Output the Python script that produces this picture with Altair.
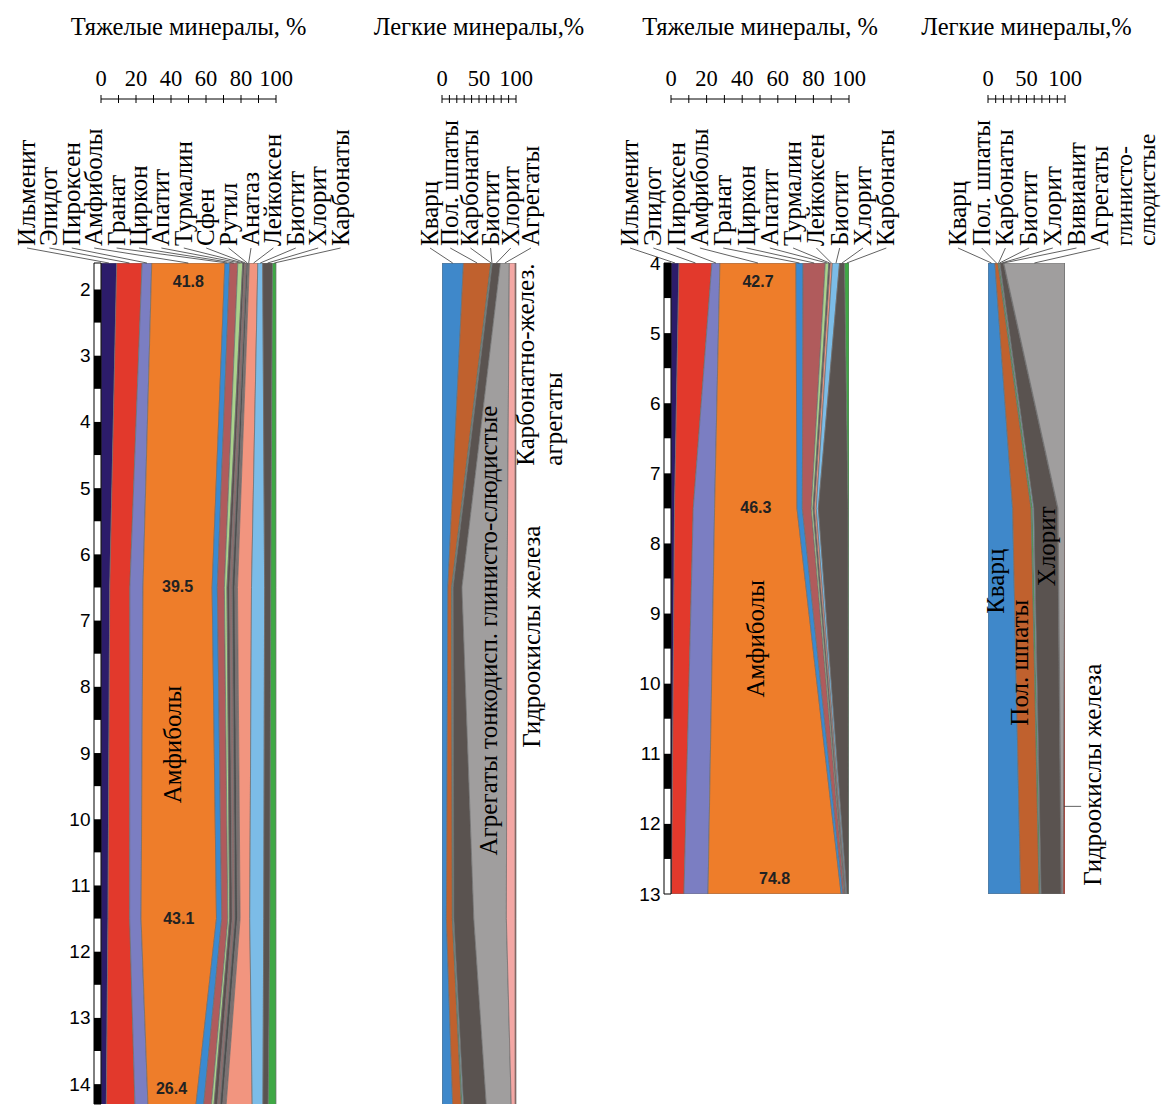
import math
import altair as alt
import pandas as pd

SERIF = "Liberation Serif"
SANS = "Liberation Sans"

# ---------------- data ----------------
# Site 1, heavy minerals (%), sample depths (m)
h1_minerals = ["Ильменит", "Эпидот", "Пироксен", "Амфиболы", "Гранат", "Циркон", "Апатит",
               "Турмалин", "Сфен", "Рутил", "Анатаз", "Лейкоксен", "Биотит", "Хлорит", "Карбонаты"]
h1_depths = [1.6, 6.5, 11.5, 14.5]
h1_values = [
    [9.0, 5.0, 4.0, 3.0],        # Ильменит
    [14.5, 11.5, 12.4, 16.6],    # Эпидот
    [5.5, 7.5, 6.5, 7.5],        # Пироксен
    [41.8, 39.5, 43.1, 26.4],    # Амфиболы
    [2.8, 3.0, 3.0, 4.5],        # Гранат
    [4.6, 4.0, 3.5, 4.5],        # Циркон
    [2.8, 1.5, 1.0, 1.5],        # Апатит
    [1.0, 1.5, 1.5, 2.0],        # Турмалин
    [1.2, 1.5, 1.5, 1.5],        # Сфен
    [0.8, 1.5, 1.5, 1.5],        # Рутил
    [0.8, 1.5, 1.5, 2.0],        # Анатаз
    [4.8, 8.0, 5.5, 15.5],       # Лейкоксен
    [2.8, 7.5, 8.0, 6.0],        # Биотит
    [5.6, 3.5, 3.5, 3.0],        # Хлорит
    [2.0, 3.0, 3.5, 4.5],        # Карбонаты
]

# Site 1, light minerals (%)
l1_minerals = ["Кварц", "Пол. шпаты", "Карбонаты", "Биотит", "Хлорит", "Агрегаты",
               "Карбонатно-желез. агрегаты", "Гидроокислы железа"]
l1_labelled = ["Кварц", "Пол. шпаты", "Карбонаты", "Биотит", "Хлорит", "Агрегаты"]
l1_depths = [1.6, 6.5, 11.5, 14.5]
l1_values = [
    [29.0, 8.0, 6.0, 15.0],
    [37.0, 5.0, 8.0, 12.0],
    [1.0, 1.0, 1.0, 1.5],
    [1.0, 1.0, 1.0, 1.5],
    [11.0, 12.0, 27.0, 31.0],
    [12.0, 61.0, 44.0, 33.0],
    [8.0, 11.0, 12.0, 5.0],
    [1.0, 1.0, 1.0, 1.0],
]

# Site 2, heavy minerals (%)
h2_minerals = ["Ильменит", "Эпидот", "Пироксен", "Амфиболы", "Гранат", "Циркон", "Апатит",
               "Турмалин", "Лейкоксен", "Биотит", "Хлорит", "Карбонаты"]
h2_depths = [4.0, 7.5, 13.0]
h2_values = [
    [4.5, 2.0, 0.3],
    [18.5, 10.5, 7.0],
    [4.5, 12.0, 13.5],
    [42.7, 46.3, 74.8],
    [4.0, 3.0, 1.0],
    [12.5, 5.0, 0.8],
    [2.0, 1.0, 0.3],
    [0.8, 0.8, 0.3],
    [1.2, 1.0, 0.3],
    [4.0, 1.2, 0.5],
    [2.8, 16.7, 1.0],
    [2.5, 0.5, 0.2],
]

# Site 2, light minerals (%)
l2_minerals = ["Кварц", "Пол. шпаты", "Карбонаты", "Биотит", "Хлорит", "Вивианит", "Агрегаты",
               "Гидроокислы железа"]
l2_labelled = ["Кварц", "Пол. шпаты", "Карбонаты", "Биотит", "Хлорит", "Вивианит", "Агрегаты"]
l2_depths = [4.0, 7.5, 13.0]
l2_values = [
    [9.0, 32.0, 42.5],
    [4.0, 24.0, 24.0],
    [1.5, 2.0, 1.5],
    [1.0, 1.5, 1.0],
    [4.5, 31.0, 26.0],
    [0.5, 0.5, 0.5],
    [79.5, 9.0, 2.0],
    [0.0, 0.0, 2.5],
]

heavy_ticks = [0, 20, 40, 60, 80, 100]
light_ticks = [0, 50, 100]

# ---------------- styles ----------------
COL = {
    "Ильменит": "#2c1c6a", "Эпидот": "#e2392c", "Пироксен": "#7b7ec2", "Амфиболы": "#ee7d2a",
    "Гранат": "#3a8ad1", "Циркон": "#b05b5c", "Апатит": "#a9d28c", "Турмалин": "#5b4e4e",
    "Сфен": "#8d6f6f", "Рутил": "#4e4e4e", "Анатаз": "#7d7070", "Лейкоксен": "#f2957f",
    "Биотит": "#7cbce7", "Хлорит": "#5a5350", "Карбонаты": "#3fa845",
}
LCOL = {
    "Кварц": "#3f88ca", "Пол. шпаты": "#c0612e", "Карбонаты": "#4aa84e", "Биотит": "#7fd0e6",
    "Хлорит": "#5a5350", "Вивианит": "#8a7c7c", "Агрегаты": "#a09e9e",
    "Карбонатно-желез. агрегаты": "#f4a7a4", "Гидроокислы железа": "#c0392b",
}

SPACING = 139
ROT_FS = 25      # rotated serif labels
TITLE_FS = 24.5


def build_panel(names, colors, depths, values, labelled, band_w, extra_w, height, ydom, ticks,
                title, lab_start, lab_step, show_depth, numbers_for=None, notes=(),
                extra_label_lines=None, hlines=()):
    rows = []
    for k, (m, vs) in enumerate(zip(names, values)):
        for d, v in zip(depths, vs):
            rows.append({"mineral": m, "k": k, "depth": d, "value": v})
    df = pd.DataFrame(rows)

    width = band_w + extra_w
    xs = alt.Scale(domain=[0, 100.0 * width / band_w], nice=False, zero=False)
    ys = alt.Scale(domain=list(ydom), reverse=True, nice=False, zero=False)
    if show_depth:
        yax = alt.Axis(values=list(range(math.ceil(ydom[0]), math.floor(ydom[1]) + 1)),
                       format="d", labelFont=SANS, labelFontSize=19, labelColor="black",
                       ticks=False, domain=False, grid=False, labelPadding=11,
                       labelOverlap=False, title="")
    else:
        yax = alt.Axis(labels=False, ticks=False, domain=False, grid=False, title="")

    def X(f):
        return alt.X(f, scale=xs, axis=None)

    def Y(f):
        return alt.Y(f, scale=ys, axis=yax)

    def pct(px):
        return px / band_w * 100.0

    layers = []
    area = alt.Chart(df).mark_area(orient="horizontal", stroke="#6e6e6e", strokeWidth=0.7,
                                   clip=True).encode(
        x=alt.X("value:Q", stack="zero", scale=xs, axis=None),
        y=Y("depth:Q"),
        color=alt.Color("mineral:N", scale=alt.Scale(domain=names, range=[colors[m] for m in names]),
                        legend=None),
        order=alt.Order("k:Q", sort="ascending"),
    )
    layers.append(area)

    # depth scale bar (alternating half-metre segments)
    if show_depth:
        bg = pd.DataFrame({"a": [ydom[0]], "b": [ydom[1]]})
        layers.append(alt.Chart(bg).mark_rect(fill="white", stroke="black", strokeWidth=1).encode(
            x=alt.value(-7), x2=alt.value(0), y=Y("a:Q"), y2="b:Q"))
        segs = [{"a": n, "b": min(n + 0.5, ydom[1])}
                for n in range(math.ceil(ydom[0]), math.floor(ydom[1]) + 1) if n < ydom[1]]
        layers.append(alt.Chart(pd.DataFrame(segs)).mark_rect(fill="black").encode(
            x=alt.value(-7), x2=alt.value(0), y=Y("a:Q"), y2="b:Q"))

    # floating percent scale bar on top
    layers.append(alt.Chart(pd.DataFrame({"a": [0], "b": [100]})).mark_rule(
        color="black", strokeWidth=1).encode(x=X("a:Q"), x2="b:Q", y=alt.value(-164)))
    layers.append(alt.Chart(pd.DataFrame({"t": list(range(0, 101, 10))})).mark_rule(
        color="black", strokeWidth=1).encode(x=X("t:Q"), y=alt.value(-168), y2=alt.value(-160)))
    layers.append(alt.Chart(pd.DataFrame({"t": ticks, "s": [str(t) for t in ticks]})).mark_text(
        font=SERIF, fontSize=22.5, baseline="alphabetic", color="black").encode(
        x=X("t:Q"), y=alt.value(-177), text="s:N"))
    layers.append(alt.Chart(pd.DataFrame({"s": [title]})).mark_text(
        font=SERIF, fontSize=TITLE_FS, baseline="alphabetic", color="black").encode(
        x=alt.value(band_w / 2), y=alt.value(-228), text="s:N"))

    # mineral name labels with leader lines to the top of each band
    top = [vs[0] for vs in values]
    centers = {}
    acc = 0.0
    for m, v in zip(names, top):
        centers[m] = acc + v / 2
        acc += v
    lab = []
    for j, m in enumerate(labelled):
        lab.append({"name": m, "lx": pct(lab_start + j * lab_step), "tx": centers[m]})
    labdf = pd.DataFrame(lab)
    layers.append(alt.Chart(labdf).mark_rule(color="#3a3a3a", strokeWidth=0.8).encode(
        x=X("lx:Q"), x2="tx:Q", y=alt.value(-15), y2=alt.value(0)))
    layers.append(alt.Chart(labdf).mark_text(
        angle=270, align="left", baseline="middle", font=SERIF, fontSize=ROT_FS,
        color="black").encode(x=X("lx:Q"), y=alt.value(-17), text="name:N"))
    if extra_label_lines:
        base_name, offsets, texts = extra_label_lines
        bx = lab_start + labelled.index(base_name) * lab_step
        ex = pd.DataFrame({"s": texts, "lx": [pct(bx + o) for o in offsets]})
        layers.append(alt.Chart(ex).mark_text(
            angle=270, align="left", baseline="middle", font=SERIF, fontSize=24,
            color="black").encode(x=X("lx:Q"), y=alt.value(-17), text="s:N"))

    # amphibole percentages written on the band
    if numbers_for:
        k = names.index(numbers_for)
        n = len(depths)
        for i, d in enumerate(depths):
            before = sum(values[j][i] for j in range(k))
            c = before + values[k][i] / 2
            dd = min(max(d, ydom[0]), ydom[1])
            dy = 19 if i == 0 else (-15 if i == n - 1 else 0)
            ndf = pd.DataFrame({"s": [f"{values[k][i]:.1f}"], "d": [dd], "c": [c]})
            layers.append(alt.Chart(ndf).mark_text(
                font=SANS, fontSize=16, fontWeight="bold", color="#222222", baseline="middle",
                dy=dy).encode(x=X("c:Q"), y=Y("d:Q"), text="s:N"))

    # free annotations: (text, depth, pct, angle, align)
    for (txt, d, p, ang, al) in notes:
        ndf = pd.DataFrame({"s": [txt], "d": [d], "p": [p]})
        layers.append(alt.Chart(ndf).mark_text(
            font=SERIF, fontSize=ROT_FS, color="black", angle=ang, align=al,
            baseline="middle").encode(x=X("p:Q"), y=Y("d:Q"), text="s:N"))

    # short horizontal leader lines: (depth, pct_from, pct_to)
    for (d, a, b) in hlines:
        ldf = pd.DataFrame({"a": [a], "b": [b], "d": [d]})
        layers.append(alt.Chart(ldf).mark_rule(color="#3a3a3a", strokeWidth=0.8).encode(
            x=X("a:Q"), x2="b:Q", y=Y("d:Q")))

    return alt.layer(*layers).properties(width=width, height=height)


p1 = build_panel(h1_minerals, COL, h1_depths, h1_values, h1_minerals, 175, 166 - SPACING, 841,
                 (1.6, 14.3), heavy_ticks, "Тяжелые минералы, %", -74.0, 22.4, True,
                 numbers_for="Амфиболы",
                 notes=[("Амфиболы", 8.87, 41.0, 270, "center")])

p2 = build_panel(l1_minerals, LCOL, l1_depths, l1_values, l1_labelled, 74, 155 - SPACING, 841,
                 (1.6, 14.3), light_ticks, "Легкие минералы,%", -12.0, 20.2, False,
                 notes=[("Агрегаты  тонкодисп. глинисто-слюдистые", 7.15, 64.0, 270, "center"),
                        ("Карбонатно-желез.", 4.66, 113.0, 270, "left"),
                        ("агрегаты", 4.66, 151.0, 270, "left"),
                        ("Гидроокислы железа", 8.92, 121.0, 270, "left")])

p3 = build_panel(h2_minerals, COL, h2_depths, h2_values, h2_minerals, 178, 0, 631,
                 (4.0, 13.0), heavy_ticks, "Тяжелые минералы, %", -41.0, 23.3, True,
                 numbers_for="Амфиболы",
                 notes=[("Амфиболы", 9.36, 48.0, 270, "center")])

p4 = build_panel(l2_minerals, LCOL, l2_depths, l2_values, l2_labelled, 77, 0, 631,
                 (4.0, 13.0), light_ticks, "Легкие минералы,%", -30.0, 23.7, False,
                 notes=[("Кварц", 8.54, 10.0, 270, "center"),
                        ("Пол. шпаты", 9.7, 42.0, 270, "center"),
                        ("Хлорит", 8.04, 77.0, 270, "center"),
                        ("Гидроокислы железа", 11.3, 136.0, 270, "center")],
                 extra_label_lines=("Агрегаты", [25, 48], ["глинисто-", "слюдистые"]),
                 hlines=[(11.75, 99.0, 121.0)])

chart = alt.hconcat(p1, p2, p3, p4, spacing=SPACING, bounds="flush").resolve_scale(
    x="independent", y="independent", color="independent").properties(
    padding={"left": 6, "top": 7, "right": 0, "bottom": 0},
    background="white",
).configure_view(stroke=None)

chart.save("out.html", embed_options={"renderer": "svg", "actions": False})
